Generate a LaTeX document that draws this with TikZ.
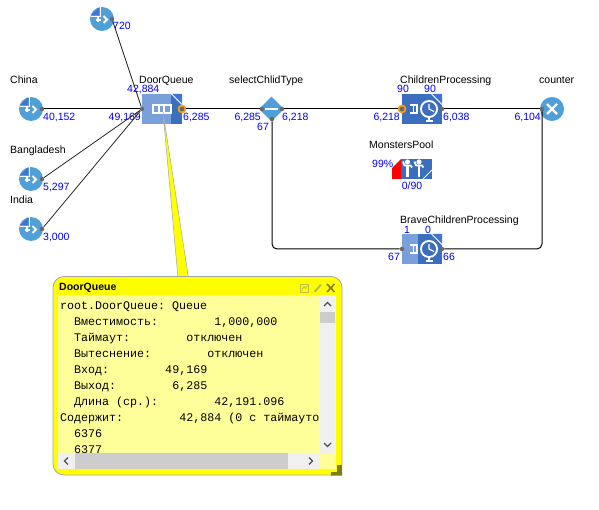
\documentclass[tikz,border=0pt]{standalone}
\usepackage{fontspec}
\usetikzlibrary{shapes.geometric}
\setmainfont{Liberation Sans}
\setmonofont{Liberation Mono}
\definecolor{srcblue}{RGB}{80,160,215}
\definecolor{qlight}{RGB}{122,160,220}
\definecolor{qdark}{RGB}{60,110,190}
\definecolor{qcorner}{RGB}{65,115,215}
\definecolor{portgray}{RGB}{105,105,105}
\definecolor{portorange}{RGB}{250,160,20}
\definecolor{palepanel}{RGB}{255,255,153}
\definecolor{winyellow}{RGB}{255,255,0}
\definecolor{olive}{RGB}{125,125,20}
\definecolor{oliveb}{RGB}{190,190,70}
\definecolor{scrollbg}{RGB}{240,240,240}
\definecolor{scrollthumb}{RGB}{205,205,205}
\definecolor{scrollarrow}{RGB}{80,80,80}
\tikzset{
  lab/.style={font=\fontsize{10.5}{12}\selectfont,inner sep=0pt,text height=8pt,text depth=2pt,anchor=west,yshift=-2pt},
  num/.style={lab,text=blue},
  conn/.style={draw=black,line width=1pt},
  diag/.style={draw=black!85,line width=0.8pt},
  port/.style={circle,fill=portgray,draw=none,minimum size=4.5pt,inner sep=0pt},
  hotport/.style={circle,fill=portgray,draw=portorange,line width=1.7pt,minimum size=7pt,inner sep=0pt},
  srcnode/.style={circle,fill=srcblue,draw=none,minimum size=24pt,inner sep=0pt},
  blocknode/.style={rectangle,draw=none,inner sep=0pt,minimum width=40pt,minimum height=30pt},
  icon/.style={draw=white,line width=1.3pt},
  srcicon/.pic={
    \fill[qcorner] (-10.5,-4) -- (-3,-11.5) -- (-3,-4) -- cycle;
    \draw[white,line width=0.9pt] (-11,-3) -- (-2,-3) -- (-2,-11.5);
    \draw[white,line width=1.5pt] (-6.5,1) -- (-1.5,1) (-4,-1.5) -- (-4,3.5);
    \draw[white,line width=1.9pt] (1.5,-3) -- (5,0.5) -- (1.5,4);
  },
  cornerline/.pic={
    \fill[qcorner] (0,0) -- (10.5,0) -- (10.5,10.5) -- cycle;
    \draw[white,line width=0.9pt] (0,0) -- (10.5,10.5);
  },
  clockicon/.pic={
    \draw[icon] (-19.5,-4) -- (-11.5,-4) (-19.5,4) -- (-11.5,4) (-15.5,-4) -- (-15.5,4) (-12,-4) -- (-12,4);
    \fill[white] (0,0) circle (9pt);
    \fill[qdark] (0,0) circle (7pt);
    \draw[white,line width=1.2pt] (0,-5) -- (0,0) -- (5,2.5);
    \draw[white,line width=1.3pt] (0,8) -- (0,11);
    \draw[white,line width=1.5pt] (-3.5,12) -- (3.5,12);
  },
  personicon/.pic={
    \fill[white] (0,-7) circle (2.6pt);
    \draw[white,line width=1.8pt,line join=round] (-4.5,-7.5) -- (-3,-3.5) -- (3,-3.5) -- (4.5,-1.5);
    \draw[white,line width=2.8pt] (0,-4) -- (0,8);
  },
  chevron/.style={draw=scrollarrow,line width=1.4pt}
}
\begin{document}
\begin{tikzpicture}[x=1pt,y=-1pt]
\useasboundingbox (0,0) rectangle (599,510);

% names
\node[lab] (tChina) at (10,79) {China};
\node[lab] (tBangladesh) at (10,149) {Bangladesh};
\node[lab] (tIndia) at (10,199) {India};
\node[lab] (tDoor) at (139,79) {DoorQueue};
\node[lab] (tSelect) at (229,79) {selectChlidType};
\node[lab] (tChildren) at (400,79) {ChildrenProcessing};
\node[lab] (tCounter) at (539,79) {counter};
\node[lab] (tPool) at (369,144) {MonstersPool};
\node[lab] (tBrave) at (400,219) {BraveChildrenProcessing};

% counts
\node[num] (n720) at (113,25) {720};
\node[num] (nChina) at (43,116) {40,152};
\node[num] (nBang) at (43,186) {5,297};
\node[num] (nIndia) at (43,236) {3,000};
\node[num,anchor=east] (nQin) at (141,116) {49,169};
\node[num] (nQlen) at (127,88) {42,884};
\node[num] (nQout) at (183,116) {6,285};
\node[num,anchor=east] (nSin) at (261,116) {6,285};
\node[num] (nSout) at (282,116) {6,218};
\node[num,anchor=center] (nSalt) at (263,126) {67};
\node[num,anchor=east] (nCin) at (400,116) {6,218};
\node[num] (nCout) at (443,116) {6,038};
\node[num,anchor=center] (nC1) at (403,88) {90};
\node[num,anchor=center] (nC2) at (430,88) {90};
\node[num,anchor=east] (nCnt) at (541,116) {6,104};
\node[num] (nPct) at (372,163) {99\%};
\node[num,anchor=center] (nCap) at (412,185) {0/90};
\node[num,anchor=center] (nB1) at (407,229) {1};
\node[num,anchor=center] (nB2) at (428,229) {0};
\node[num,anchor=center] (nBin) at (394,256) {67};
\node[num] (nBout) at (443,256) {66};

% blocks
\node[srcnode] (srcTop) at (102,19) {};
\node[srcnode] (srcChina) at (31,109) {};
\node[srcnode] (srcBang) at (31,179) {};
\node[srcnode] (srcIndia) at (31,229) {};
\foreach \p in {(102,19),(31,109),(31,179),(31,229)} \pic at \p {srcicon};

\node[blocknode,fill=qlight] (queue) at (162,109) {};
\fill[qdark] (171,94) rectangle (182,124);
\pic at (171.5,94) {cornerline};
\draw[icon] (153,105) rectangle (171,113) (159,105) -- (159,113) (164,105) -- (164,113);

\node[diamond,aspect=1,fill=srcblue,draw=none,minimum size=25pt,inner sep=0pt] (select) at (271.5,109) {};
\draw[white,line width=1.3pt] (265,109) -- (278,109);

\node[blocknode,fill=qdark] (children) at (422,109) {};
\pic at (431.5,94) {cornerline};
\pic at (429,109) {clockicon};

\node[rectangle,fill=qdark,draw=none,inner sep=0pt,minimum width=31pt,minimum height=20pt] (pool) at (416.5,169) {};
\fill[red] (392,168) -- (401,159) -- (401,179) -- (392,179) -- cycle;
\pic at (407.5,169) {personicon};
\pic at (419,169) {personicon};
\draw[white,line width=0.9pt] (423,179) -- (432,170);

\node[blocknode,fill=qdark] (brave) at (422,249) {};
\fill[qlight] (402,234) rectangle (418,264);
\pic at (431.5,234) {cornerline};
\pic at (429,249) {clockicon};

\node[srcnode] (counter) at (552,109) {};
\draw[white,line width=2.4pt] (547,104) -- (557,114) (557,104) -- (547,114);

% ports
\node[port] (pTop) at (112,19) {};
\node[port] (pChina) at (42,109) {};
\node[port] (pBang) at (42,179) {};
\node[port] (pIndia) at (42,229) {};
\node[port] (qIn) at (142,109) {};
\node[hotport] (qOut) at (182,109) {};
\node[port] (sIn) at (262,109) {};
\node[port] (sOut) at (282,109) {};
\node[port] (sAlt) at (272,119) {};
\node[hotport] (cIn) at (402,109) {};
\node[port] (cOut) at (442,109) {};
\node[port] (bIn) at (402,249) {};
\node[port] (bOut) at (442,249) {};
\node[port] (kIn) at (542,109) {};

% connectors
\draw[diag] (pTop) -- (qIn);
\draw[conn] (pChina) -- (qIn);
\draw[diag] (pBang) -- (qIn);
\draw[diag] (pIndia) -- (qIn);
\draw[conn] (qOut) -- (sIn);
\draw[conn] (sOut) -- (cIn);
\draw[conn] (cOut) -- (kIn);
\draw[conn,rounded corners=5pt] (sAlt) |- (bIn);
\draw[conn,rounded corners=5pt] (bOut) -| (kIn);

% callout
\fill[winyellow,draw=black!35,line width=0.5pt] (163,112) -- (178,278) -- (188.5,278) -- cycle;
\fill[winyellow,draw=black!35,line width=0.8pt,rounded corners=11pt] (53,276.5) rectangle (342,475);
\fill[olive] (342,465) -- (337,465) -- (337,472) -- (331,472) -- (331,475.5) -- (342,475.5) -- cycle;
\node[font=\fontsize{10.5}{12}\selectfont\bfseries,inner sep=0pt,anchor=west] (wTitle) at (59,288) {DoorQueue};
\fill[palepanel] (58,295) rectangle (336,469);
\begin{scope}
\clip (58,295) rectangle (319.5,453);
\node[font=\fontsize{11.67}{16}\selectfont\ttfamily,align=left,inner sep=0pt,anchor=north west] (wText) at (60,301.5) {%
root.DoorQueue:~Queue\\
~~Вместимость:~~~~~~~~1,000,000\\
~~Таймаут:~~~~~~~~отключен\\
~~Вытеснение:~~~~~~~~отключен\\
~~Вход:~~~~~~~~49,169\\
~~Выход:~~~~~~~~6,285\\
~~Длина~(ср.):~~~~~~~~42,191.096\\
Содержит:~~~~~~~~42,884~(0~с~таймауто\\
~~6376\\
~~6377};
\end{scope}
% scrollbars
\fill[scrollbg] (320,295) rectangle (335,453);
\fill[scrollthumb] (320,312) rectangle (335,323);
\draw[chevron] (324,306) -- (327.5,302.5) -- (331,306);
\draw[chevron] (324,443) -- (327.5,446.5) -- (331,443);
\fill[scrollbg] (58,453) rectangle (320,469);
\fill[scrollthumb] (75,453) rectangle (288,469);
\draw[chevron] (68,457.5) -- (64.5,461) -- (68,464.5);
\draw[chevron] (309,457.5) -- (312.5,461) -- (309,464.5);
% window buttons
\draw[oliveb,line width=0.8pt] (300.5,284) rectangle (308.5,292.5);
\draw[oliveb,line width=0.8pt] (301.5,290.5) -- (304,286.5) -- (305.5,288.5) -- (307.5,285.5);
\draw[oliveb,line width=2pt] (314.5,292) -- (321,284.5);
\draw[olive,line width=1.6pt] (327,284) -- (334.5,292) (334.5,284) -- (327,292);
\end{tikzpicture}
\end{document}
